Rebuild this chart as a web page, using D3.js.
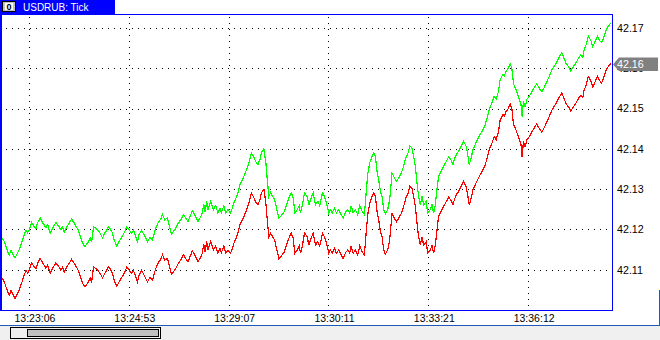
<!DOCTYPE html>
<html><head><meta charset="utf-8">
<script src="https://cdn.jsdelivr.net/npm/d3@7/dist/d3.min.js"></script>
<style>
html,body{margin:0;padding:0;background:#fff;}
svg{display:block;font-family:"Liberation Sans",Arial,sans-serif;}
</style></head>
<body>
<svg id="c" width="660" height="340"></svg>
<script>
const title = "USDRUB: Tick";
const yTicks = [42.11, 42.12, 42.13, 42.14, 42.15, 42.16, 42.17];
const xTickIdx = [28, 128, 228, 328, 428, 528];
const xTickLabels = ["13:23:06", "13:24:53", "13:29:07", "13:30:11", "13:33:21", "13:36:12"];
const tickNo = [0,3.3,6.7,8.3,10,11.7,14,16.7,18.3,20.7,23.3,25,26.7,28.3,30.7,33.3,35,36.7,39.3,41.7,45,46.7,49.3,51.7,55,58.3,60,61.7,63.3,66,68.3,70.7,73.3,77.3,80,81.7,84,86.7,89.3,90.7,92.7,95,96.7,99.3,101.7,104,106,107.3,109.3,111.7,113.3,116,118.3,121.7,124,126,128.3,130.7,132.7,134.3,136.7,138.3,140.7,143.3,146.7,149.3,151.7,153.3,155,157.3,160,161.7,164,166.7,168.3,170.7,172.7,175,177.3,180,182.7,185,187.3,189.3,191.7,194,197.3,199.3,201.7,203,204.5,206,207.3,210,212.7,215,217.3,219.3,220.7,223.3,225,227.3,230,231.7,233.3,236.7,239.3,242.7,246,248.3,250.7,252.7,255,257.3,259.3,260.7,263.3,265.3,266.7,268.3,270,272,274,276,278.3,280.7,283.3,286,288.3,290.7,292.7,294.3,296.7,298.7,300,302,304,306.7,308.3,310,312.7,315,317.3,319.3,322,324,326,328.3,330,331.7,334,336,338.3,340.7,342.7,345,347.3,349.3,350.7,352.7,355,357.3,359.3,361.7,364,366,367.3,369.3,371.7,373.3,375,376.7,378.3,380,381.7,383.3,385,387.3,389.3,391.7,393.3,396,398.3,401,403.3,405.5,407.7,409.5,411.7,413.3,415,416.7,418.3,420,421.7,423.3,426,427.3,430,431.7,433.3,435,436.7,438.3,440.7,443.3,446,448.3,450.7,452.7,454,456,458.3,460.7,463.3,466,467.7,469,471,472.7,475,477.3,480,482.7,485,487.3,489.3,491.7,494,496,498.3,500,502.7,504,506,508.3,510,511.7,513.3,516,518.3,520.7,522,523.3,525,526.7,529.3,531.7,534,536.7,539.3,541.7,544,546.7,549.3,551.7,554,556.7,559.3,561.7,563.3,566,568.3,570.7,573.3,576,578.3,580.7,582.7,584,586,588.3,590.7,592.7,595,597.3,599.3,601.7,604,606,608.3,610.7];
const ask = [42.1183,42.1170,42.1145,42.1137,42.1148,42.1140,42.1129,42.1142,42.1150,42.1167,42.1187,42.1198,42.1192,42.1199,42.1217,42.1207,42.1202,42.1217,42.1228,42.1217,42.1204,42.1212,42.1191,42.1204,42.1217,42.1206,42.1199,42.1207,42.1193,42.1207,42.1216,42.1226,42.1216,42.1199,42.1179,42.1166,42.1158,42.1166,42.1179,42.1168,42.1207,42.1203,42.1199,42.1191,42.1179,42.1191,42.1199,42.1207,42.1202,42.1191,42.1174,42.1159,42.1170,42.1184,42.1195,42.1206,42.1199,42.1191,42.1198,42.1187,42.1170,42.1187,42.1198,42.1187,42.1170,42.1181,42.1174,42.1189,42.1203,42.1216,42.1226,42.1237,42.1224,42.1228,42.1212,42.1189,42.1195,42.1203,42.1214,42.1224,42.1237,42.1228,42.1220,42.1232,42.1247,42.1237,42.1220,42.1228,42.1241,42.1264,42.1244,42.1270,42.1249,42.1270,42.1249,42.1259,42.1241,42.1253,42.1242,42.1259,42.1241,42.1249,42.1241,42.1253,42.1266,42.1286,42.1311,42.1328,42.1349,42.1365,42.1390,42.1382,42.1369,42.1361,42.1373,42.1390,42.1400,42.1365,42.1324,42.1282,42.1291,42.1282,42.1274,42.1253,42.1228,42.1234,42.1242,42.1261,42.1278,42.1291,42.1278,42.1241,42.1249,42.1259,42.1241,42.1261,42.1291,42.1282,42.1261,42.1274,42.1291,42.1261,42.1270,42.1259,42.1291,42.1282,42.1266,42.1241,42.1249,42.1241,42.1253,42.1241,42.1249,42.1237,42.1228,42.1242,42.1249,42.1241,42.1259,42.1241,42.1249,42.1237,42.1259,42.1245,42.1237,42.1299,42.1336,42.1365,42.1382,42.1390,42.1382,42.1344,42.1324,42.1295,42.1282,42.1249,42.1239,42.1249,42.1274,42.1340,42.1332,42.1319,42.1328,42.1340,42.1357,42.1378,42.1390,42.1408,42.1402,42.1382,42.1357,42.1315,42.1282,42.1261,42.1282,42.1261,42.1270,42.1241,42.1249,42.1261,42.1241,42.1261,42.1299,42.1332,42.1344,42.1357,42.1369,42.1380,42.1373,42.1361,42.1373,42.1386,42.1394,42.1406,42.1419,42.1406,42.1382,42.1361,42.1378,42.1398,42.1411,42.1423,42.1436,42.1448,42.1460,42.1481,42.1500,42.1514,42.1531,42.1523,42.1543,42.1572,42.1585,42.1581,42.1593,42.1601,42.1612,42.1600,42.1562,42.1546,42.1529,42.1513,42.1480,42.1519,42.1504,42.1523,42.1531,42.1542,42.1552,42.1562,42.1550,42.1542,42.1552,42.1567,42.1581,42.1596,42.1605,42.1616,42.1629,42.1639,42.1629,42.1612,42.1605,42.1594,42.1604,42.1614,42.1625,42.1633,42.1627,42.1645,42.1658,42.1680,42.1670,42.1654,42.1666,42.1680,42.1670,42.1664,42.1679,42.1695,42.1705,42.1712];
const bid = [42.1083,42.1070,42.1045,42.1037,42.1048,42.1040,42.1029,42.1042,42.1050,42.1067,42.1087,42.1098,42.1092,42.1099,42.1117,42.1107,42.1102,42.1117,42.1128,42.1117,42.1104,42.1112,42.1091,42.1104,42.1117,42.1106,42.1099,42.1107,42.1093,42.1107,42.1116,42.1126,42.1116,42.1099,42.1079,42.1066,42.1058,42.1066,42.1079,42.1068,42.1107,42.1103,42.1099,42.1091,42.1079,42.1091,42.1099,42.1107,42.1102,42.1091,42.1074,42.1059,42.1070,42.1084,42.1095,42.1106,42.1099,42.1091,42.1098,42.1087,42.1070,42.1087,42.1098,42.1087,42.1070,42.1081,42.1074,42.1089,42.1103,42.1116,42.1126,42.1137,42.1124,42.1128,42.1112,42.1089,42.1095,42.1103,42.1114,42.1124,42.1137,42.1128,42.1120,42.1132,42.1147,42.1137,42.1120,42.1128,42.1141,42.1164,42.1144,42.1170,42.1149,42.1170,42.1149,42.1159,42.1141,42.1153,42.1142,42.1159,42.1141,42.1149,42.1141,42.1153,42.1166,42.1186,42.1211,42.1228,42.1249,42.1265,42.1290,42.1282,42.1269,42.1261,42.1273,42.1290,42.1300,42.1265,42.1224,42.1182,42.1191,42.1182,42.1174,42.1153,42.1128,42.1134,42.1142,42.1161,42.1178,42.1191,42.1178,42.1141,42.1149,42.1159,42.1141,42.1161,42.1191,42.1182,42.1161,42.1174,42.1191,42.1161,42.1170,42.1159,42.1191,42.1182,42.1166,42.1141,42.1149,42.1141,42.1153,42.1141,42.1149,42.1137,42.1128,42.1142,42.1149,42.1141,42.1159,42.1141,42.1149,42.1137,42.1159,42.1145,42.1137,42.1199,42.1236,42.1265,42.1282,42.1290,42.1282,42.1244,42.1224,42.1195,42.1182,42.1149,42.1139,42.1149,42.1174,42.1240,42.1232,42.1219,42.1228,42.1240,42.1257,42.1278,42.1290,42.1308,42.1302,42.1282,42.1257,42.1215,42.1182,42.1161,42.1182,42.1161,42.1170,42.1141,42.1149,42.1161,42.1141,42.1161,42.1199,42.1232,42.1244,42.1257,42.1269,42.1280,42.1273,42.1261,42.1273,42.1286,42.1294,42.1306,42.1319,42.1306,42.1282,42.1261,42.1278,42.1298,42.1311,42.1323,42.1336,42.1348,42.1360,42.1381,42.1400,42.1414,42.1431,42.1423,42.1443,42.1472,42.1485,42.1481,42.1493,42.1501,42.1512,42.1500,42.1462,42.1446,42.1429,42.1413,42.1380,42.1419,42.1404,42.1423,42.1431,42.1442,42.1452,42.1462,42.1450,42.1442,42.1452,42.1467,42.1481,42.1496,42.1505,42.1516,42.1529,42.1539,42.1529,42.1512,42.1505,42.1494,42.1504,42.1514,42.1525,42.1533,42.1527,42.1545,42.1558,42.1580,42.1570,42.1554,42.1566,42.1580,42.1570,42.1564,42.1579,42.1595,42.1605,42.1612];

const svg = d3.select("#c");
const plot = {l: 0.5, r: 612.5, t: 14.5, b: 310.5};
const x = d3.scaleLinear().domain([0, 612]).range([1, 612]);
const y = d3.scaleLinear().domain([42.10, 42.1735]).range([310, 14]);

svg.append("rect").attr("x",0).attr("y",0).attr("width",660).attr("height",340).attr("fill","#fff");

// grid
const grid = svg.append("g").attr("stroke","#000").attr("stroke-width",1).attr("stroke-dasharray","1,5").attr("shape-rendering","crispEdges");
grid.selectAll("line.h").data(yTicks).join("line")
  .attr("x1",6).attr("x2",612).attr("y1",d=>Math.round(y(d))+0.5).attr("y2",d=>Math.round(y(d))+0.5);
grid.selectAll("line.v").data(xTickIdx).join("line")
  .attr("x1",d=>Math.round(x(d))+0.5).attr("x2",d=>Math.round(x(d))+0.5).attr("y1",17).attr("y2",310);

// series
const idx = d3.range(tickNo.length);
const line = arr => d3.line().x(i=>x(tickNo[i])).y(i=>y(arr[i]))(idx);
svg.append("path").attr("d",line(ask)).attr("fill","none").attr("stroke","#00ff00").attr("stroke-width",1.2).attr("shape-rendering","crispEdges");
svg.append("path").attr("d",line(bid)).attr("fill","none").attr("stroke","#ff0000").attr("stroke-width",1.2).attr("shape-rendering","crispEdges");

// plot frame
svg.append("rect").attr("x",plot.l).attr("y",plot.t).attr("width",plot.r-plot.l).attr("height",plot.b-plot.t)
  .attr("fill","none").attr("stroke","#0000ff").attr("shape-rendering","crispEdges");
svg.append("line").attr("x1",1.5).attr("x2",1.5).attr("y1",14).attr("y2",311).attr("stroke","#0000ff").attr("shape-rendering","crispEdges");

// y labels
svg.append("g").selectAll("text").data(yTicks).join("text")
  .attr("x",617).attr("y",d=>y(d)).attr("dy","0.36em")
  .attr("font-size","10.7px").attr("fill","#000").text(d=>d3.format(".2f")(d));

// last bid flag
const last = bid[bid.length-1];
const yl = Math.round(y(last)) + 0.5;
svg.append("polygon")
  .attr("points",[[613,yl],[619,yl-7],[658,yl-7],[658,yl+6.5],[619,yl+6.5]].map(p=>p.join(",")).join(" "))
  .attr("fill","#808080");
svg.append("text").attr("x",617).attr("y",yl).attr("dy","0.36em").attr("font-size","10.7px")
  .attr("fill","#fff").text(d3.format(".2f")(last));

// x labels
svg.append("g").selectAll("text").data(xTickIdx).join("text")
  .attr("x",d=>x(d)+6).attr("y",322).attr("text-anchor","middle")
  .attr("font-size","10.5px").attr("fill","#000").text((d,i)=>xTickLabels[i]);

// title bar
svg.append("rect").attr("x",0).attr("y",0).attr("width",115).attr("height",14).attr("fill","#0000ff");
svg.append("rect").attr("x",2.5).attr("y",1.5).attr("width",13).attr("height",10).attr("fill","#c0c0c0").attr("stroke","#000");
svg.append("rect").attr("x",5).attr("y",3).attr("width",8).attr("height",7).attr("fill","#fff");
svg.append("text").attr("x",9).attr("y",10).attr("text-anchor","middle").attr("font-size","9px").attr("font-weight","bold").attr("fill","#000").text("0");
svg.append("text").attr("x",23).attr("y",11).attr("font-size","10px").attr("fill","#fff").text(title);

// bottom scroll area
svg.append("rect").attr("x",0).attr("y",326).attr("width",660).attr("height",14).attr("fill","#f0f0f0");
svg.append("line").attr("x1",0).attr("x2",660).attr("y1",325.5).attr("y2",325.5).attr("stroke","#1e5bb8");
svg.append("line").attr("x1",659.5).attr("x2",659.5).attr("y1",290).attr("y2",326).attr("stroke","#1e5bb8");
svg.append("rect").attr("x",10.5).attr("y",327.5).attr("width",150).attr("height",11).attr("fill","#f0f0f0").attr("stroke","#000");
svg.append("rect").attr("x",27.5).attr("y",329.5).attr("width",131).attr("height",7).attr("fill","#c0c0c0").attr("stroke","#000");
</script>
</body></html>
